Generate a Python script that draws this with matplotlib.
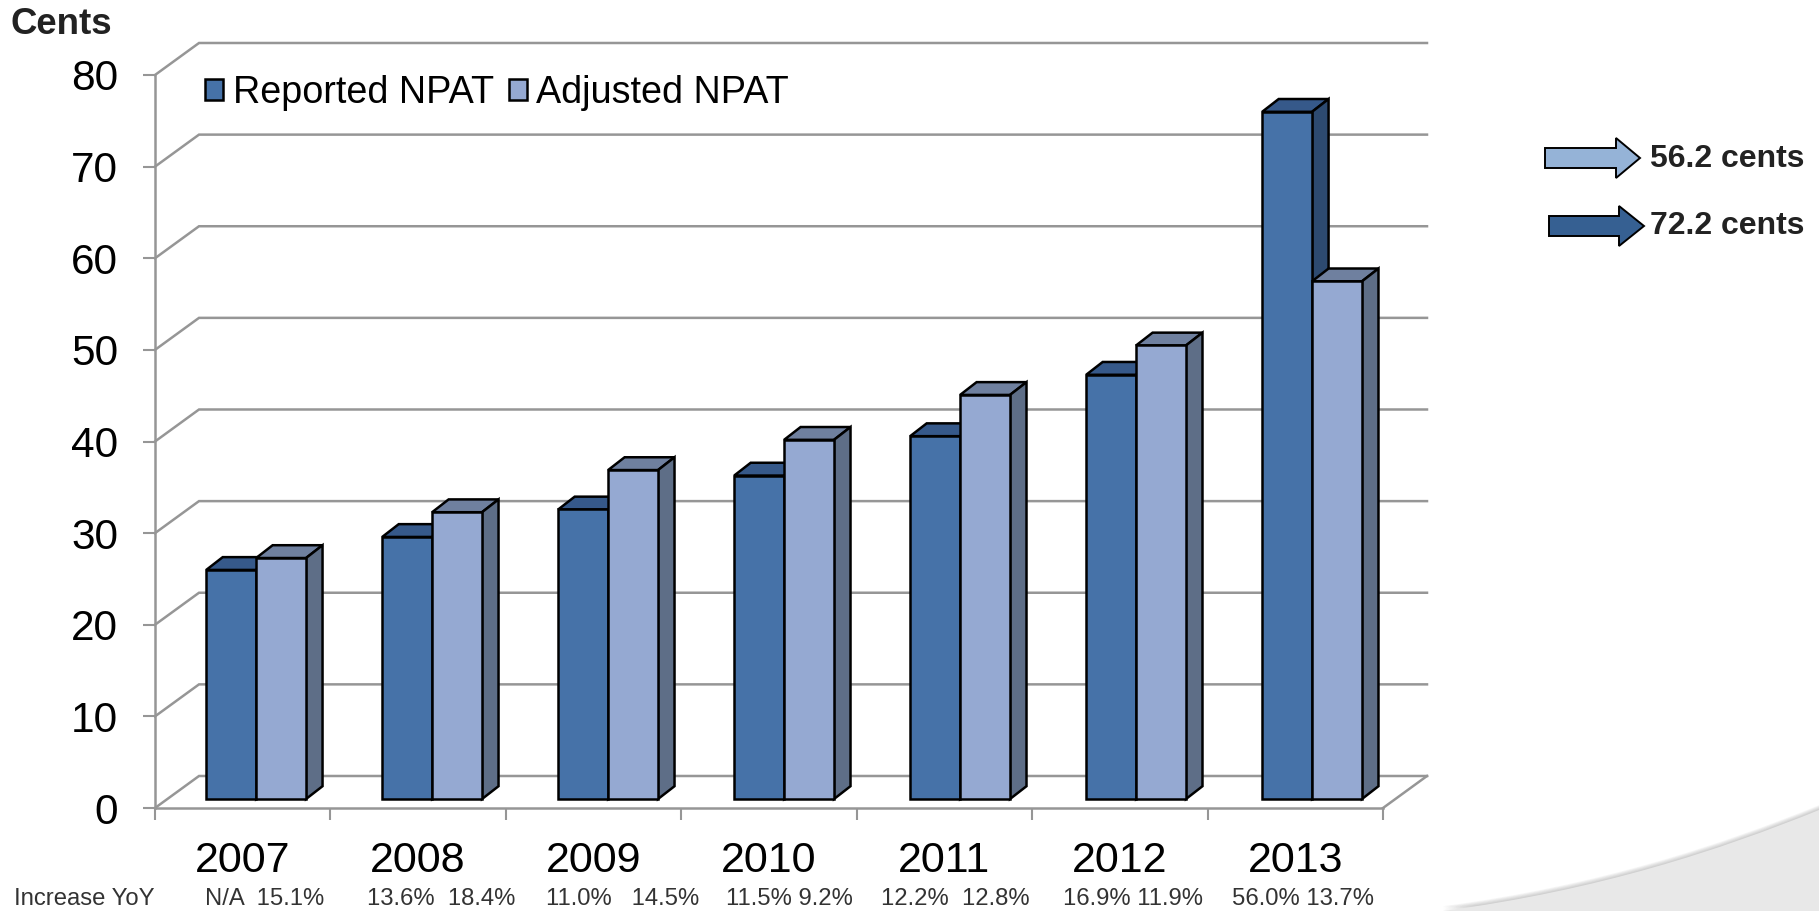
import matplotlib
matplotlib.use("Agg")
import numpy as np
from matplotlib import pyplot as plt
from matplotlib.patches import Patch, PathPatch, Polygon
from matplotlib.path import Path
from matplotlib.transforms import Affine2D

years = ['2007', '2008', '2009', '2010', '2011', '2012', '2013']
reported = [25.0, 28.6, 31.6, 35.3, 39.6, 46.3, 75.0]
adjusted = [26.3, 31.3, 35.9, 39.2, 44.1, 49.5, 56.5]
yoy = ['N/A  15.1%', '13.6%  18.4%', '11.0%   14.5%', '11.5% 9.2%',
       '12.2%  12.8%', '16.9% 11.9%', '56.0% 13.7%']
yoy_x = [265, 441, 623, 789, 955, 1133, 1303]
yticks = [0, 10, 20, 30, 40, 50, 60, 70, 80]
callouts = ['56.2 cents', '72.2 cents']

W, H = 1819, 911
plt.rcParams['font.family'] = ['Liberation Sans', 'DejaVu Sans']

GRID = '#969696'
C_REP = ('#4672A8', '#36598A', '#2D4A70')   # front, top, side
C_ADJ = ('#95A9D2', '#6F809F', '#5E6E87')

# pixel coordinates with y going down
px = Affine2D().scale(1, -1).translate(0, H)

fig = plt.figure(figsize=(W/100, H/100), dpi=100, facecolor='white')

# swoosh in the corner, with a soft shadow above it
verts = [(1443, 911), (1600, 890), (1720, 850), (1819, 810), (1819, 911), (1443, 911)]
codes = [Path.MOVETO, Path.CURVE4, Path.CURVE4, Path.CURVE4, Path.LINETO, Path.CLOSEPOLY]
for i in range(6, 0, -1):
    shifted = [(x, y - i*0.8 if y < 911 or x == 1443 else y) for x, y in verts]
    fig.add_artist(PathPatch(Path(shifted, codes), transform=px, fc='#808080',
                             ec='none', alpha=0.07))
fig.add_artist(PathPatch(Path(verts, codes), transform=px, fc='#E8E8E8', ec='none'))

ax = fig.add_axes([155/W, 1 - 808/H, (1383 - 155)/W, (808 - 75)/H])
ax.set_xlim(0, 7)
ax.set_ylim(0, 80)
ax.patch.set_alpha(0)
for s in ['top', 'right']:
    ax.spines[s].set_visible(False)
for s in ['left', 'bottom']:
    ax.spines[s].set_color(GRID)
    ax.spines[s].set_linewidth(1.8)

# depth of the 3D box and of the bars, in data units
box_dx, box_dy = 44/175.43, 32/9.16
bar_dx, bar_dy = 16.5/175.43, 12.8/9.16
floor = 9/9.16
bar_w = 0.2845
bar_off = 0.292
bar_step = 1.0032

for v in yticks:
    ax.plot([0, box_dx, 7 + box_dx], [v, v + box_dy, v + box_dy], color=GRID, lw=1.8,
            clip_on=False, zorder=1, solid_joinstyle='miter')
ax.plot([7, 7 + box_dx], [0, box_dy], color=GRID, lw=1.8, clip_on=False, zorder=1)


def bars(xs, vals, colors, z):
    ax.bar(xs, vals, bar_w, bottom=floor, align='edge', color=colors[0],
           edgecolor='black', linewidth=1.8, zorder=z + 1, clip_on=False)
    for x, v in zip(xs, vals):
        top = v + floor
        ax.add_patch(Polygon([(x, top), (x + bar_dx, top + bar_dy),
                              (x + bar_w + bar_dx, top + bar_dy), (x + bar_w, top)],
                             fc=colors[1], ec='black', lw=1.8, zorder=z, clip_on=False))
        ax.add_patch(Polygon([(x + bar_w, floor), (x + bar_w + bar_dx, floor + bar_dy),
                              (x + bar_w + bar_dx, top + bar_dy), (x + bar_w, top)],
                             fc=colors[2], ec='black', lw=1.8, zorder=z, clip_on=False))


pos = np.arange(len(years))
bars(pos*bar_step + bar_off, reported, C_REP, 3)
bars(pos*bar_step + bar_off + bar_w, adjusted, C_ADJ, 5)

ax.set_yticks(yticks)
ax.tick_params(axis='y', length=8.6, width=1.5, color=GRID, labelsize=30.5, pad=18, labelcolor='black')
ax.set_xticks(np.arange(8))
ax.set_xticklabels([])
ax.tick_params(axis='x', which='major', length=8.6, width=1.5, color=GRID)
ax.set_xticks(pos + 0.5, minor=True)
ax.set_xticklabels(years, minor=True)
ax.tick_params(axis='x', which='minor', length=0, labelsize=31, pad=24)

leg = ax.legend(handles=[Patch(fc=C_REP[0], ec='black', lw=1.8, label='Reported NPAT'),
                         Patch(fc=C_ADJ[0], ec='black', lw=1.8, label='Adjusted NPAT')],
                loc='center left', bbox_to_anchor=(205, 93), bbox_transform=px, ncol=2,
                frameon=False, fontsize=27.2, handlelength=0.47, handleheight=0.47,
                handletextpad=0.26, columnspacing=0.40, borderpad=0, borderaxespad=0)

fig.text(10, 25, 'Cents', transform=px, fontsize=26.4, fontweight='bold', color='#222222',
         va='center', ha='left')
fig.text(14, 899, 'Increase YoY', transform=px, fontsize=17.2, color='#333333', va='center')
for x, s in zip(yoy_x, yoy):
    fig.text(x, 899, s, transform=px, fontsize=17.2, color='#333333', va='center', ha='center')


def arrow(x0, x1, xh, yc, color):
    pts = [(x0, yc - 10), (xh, yc - 10), (xh, yc - 20), (x1, yc), (xh, yc + 20),
           (xh, yc + 10), (x0, yc + 10)]
    fig.add_artist(Polygon(pts, transform=px, fc=color, ec='black', lw=1.4))


arrow(1545, 1640, 1616, 158, '#95B3D7')
arrow(1549, 1644, 1619, 226, '#366092')
for yc, s in zip([159, 226], callouts):
    fig.text(1650, yc, s, transform=px, fontsize=23, fontweight='bold', color='#222222',
             va='center', ha='left')

fig.savefig('out.png', dpi=100)
